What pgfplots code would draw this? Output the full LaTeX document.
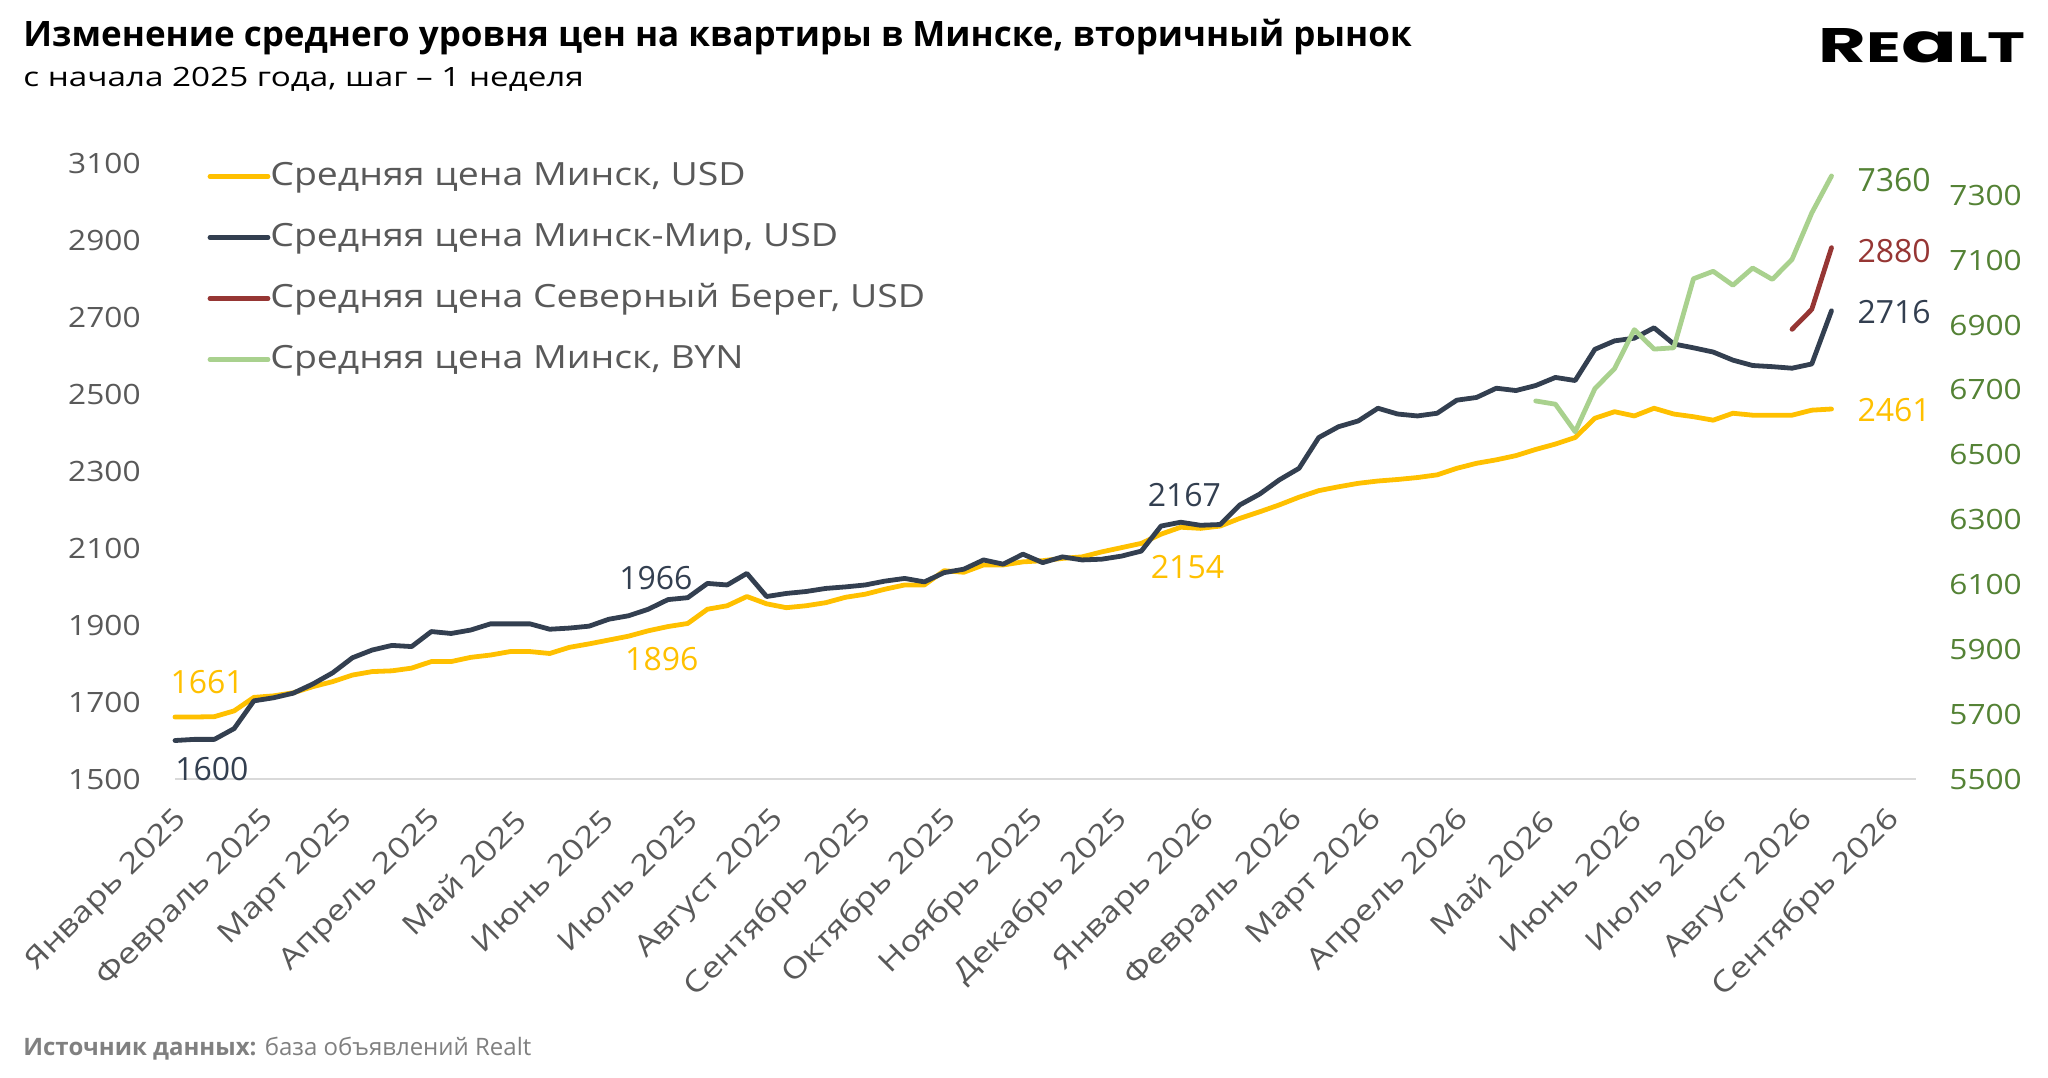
\documentclass[border=0pt]{standalone}
\usepackage{fontspec}
\setmainfont{Open Sans}
\newfontfamily\logofont{Poppins}
\newfontfamily\legfont{Open Sans}[FakeStretch=1.17]
\newfontfamily\subfont{Open Sans}[FakeStretch=1.25]
\newfontfamily\ytfont{Open Sans}[FakeStretch=1.13]
\newfontfamily\xtfont{Open Sans}[FakeStretch=1.2]
\usepackage{pgfplots}
\pgfplotsset{compat=1.18}
\usepackage{pgfplotstable}

\definecolor{cYel}{HTML}{FFC000}
\definecolor{cDark}{HTML}{333F50}
\definecolor{cRed}{HTML}{963634}
\definecolor{cGreen}{HTML}{A9D18E}
\definecolor{cGreenT}{HTML}{548235}
\definecolor{cGray}{HTML}{595959}
\definecolor{cSrc}{HTML}{808080}
\definecolor{cAxis}{HTML}{D9D9D9}

\pgfplotstableread{
x usd mir
0 1661 1600
7 1661 1603
14 1662 1603
21 1677 1631
28 1712 1703
35 1716 1711
42 1724 1723
49 1740 1747
56 1753 1776
63 1770 1815
70 1779 1835
77 1781 1847
84 1788 1844
91 1805 1883
98 1805 1878
105 1816 1887
112 1822 1903
119 1831 1903
126 1831 1903
133 1826 1889
140 1842 1892
147 1851 1897
154 1861 1915
161 1871 1924
168 1885 1941
175 1896 1966
182 1904 1971
189 1941 2008
196 1950 2004
203 1974 2034
210 1955 1974
217 1945 1982
224 1950 1987
231 1958 1995
238 1972 1999
245 1980 2004
252 1993 2014
259 2004 2021
266 2004 2012
273 2041 2036
280 2037 2045
287 2056 2069
294 2056 2058
301 2064 2084
308 2067 2062
315 2073 2077
322 2077 2069
329 2090 2071
336 2101 2079
343 2112 2092
350 2136 2157
357 2154 2167
364 2151 2159
371 2157 2161
378 2177 2212
385 2194 2240
392 2212 2277
399 2232 2307
406 2249 2387
413 2259 2415
420 2268 2430
427 2274 2463
434 2278 2448
441 2283 2443
448 2290 2450
455 2307 2484
462 2320 2491
469 2329 2515
476 2340 2509
483 2356 2522
490 2370 2543
497 2387 2535
504 2437 2616
511 2454 2638
518 2443 2645
525 2463 2672
532 2448 2630
539 2441 2620
546 2432 2609
553 2450 2588
560 2445 2574
567 2445 2571
574 2445 2567
581 2458 2578
588 2461 2716
}\tblMain

\pgfplotstableread{
x sb
574 2668
581 2720
588 2880
}\tblSB

\pgfplotstableread{
x byn
483 6666
490 6656
497 6571
504 6704
511 6766
518 6886
525 6826
532 6830
539 7043
546 7066
553 7023
560 7076
567 7041
574 7103
581 7246
588 7360
}\tblBYN

\newcommand{\dl}{\fontsize{16}{18}\selectfont}

\begin{document}
\begin{tikzpicture}
\useasboundingbox (0,0) rectangle (1024pt,538.5pt);

\node[anchor=base west, inner sep=0pt, font=\fontsize{17.5}{20}\selectfont\bfseries] at (11.5pt,515pt) {Изменение среднего уровня цен на квартиры в Минске, вторичный рынок};
\node[anchor=base west, inner sep=0pt, font=\subfont\fontsize{13.3}{16}\selectfont] at (11.5pt,495pt) {с начала 2025 года, шаг – 1 неделя};
\node[anchor=base west, inner sep=0pt, font=\fontsize{12}{14}\selectfont, text=cSrc] at (11.5pt,11pt) {\textbf{Источник данных:} база объявлений Realt};
\node[anchor=base east, inner sep=0pt] at (1013pt,507pt) {\resizebox{103.5pt}{17pt}{\logofont\bfseries\fontsize{24}{24}\selectfont R\fontsize{21}{21}\selectfont E\fontsize{27}{27}\selectfont a\fontsize{21}{21}\selectfont LT}};

\begin{axis}[
  at={(87.5pt,149pt)}, anchor=south west,
  width=870.5pt, height=308pt, scale only axis,
  xmin=0, xmax=618, ymin=1500, ymax=3100,
  axis x line*=bottom, axis y line*=left,
  x axis line style={draw=cAxis, line width=1pt, -},
  y axis line style={draw=none},
  ytick={1500,1700,...,3100},
  xtick={0,31,59,90,120,151,181,212,243,273,304,334,365,396,424,455,485,516,546,577,608},
  xticklabels={Январь 2025, Февраль 2025, Март 2025, Апрель 2025, Май 2025, Июнь 2025, Июль 2025, Август 2025, Сентябрь 2025, Октябрь 2025, Ноябрь 2025, Декабрь 2025, Январь 2026, Февраль 2026, Март 2026, Апрель 2026, Май 2026, Июнь 2026, Июль 2026, Август 2026, Сентябрь 2026},
  major tick length=0pt, tick style={draw=none},
  scaled y ticks=false,
  /pgf/number format/assume math mode=true,
  /pgf/number format/1000 sep={},
  yticklabel style={font=\ytfont\fontsize{14}{16}\selectfont, text=cGray, anchor=east, inner sep=0pt, xshift=-17pt},
  xticklabel style={font=\xtfont\fontsize{14.5}{16}\selectfont, text=cGray, inner sep=0pt, anchor=east, xshift=4pt, yshift=-18pt, rotate=45},
  clip=false,
  legend cell align=left,
  legend style={at={(axis description cs:0.0185,1.003)}, anchor=north west, draw=none, fill=none,
    font=\legfont\fontsize{16}{19}\selectfont, text=cGray, row sep=15.5pt, inner sep=0pt,
    nodes={inner sep=0pt, text height=12pt, text depth=3pt}},
  legend image code/.code={\draw[#1] (0pt,0pt) -- (29pt,0pt);},
  every axis plot/.append style={line width=2.4pt, line join=round, line cap=round},
]
\addplot[cYel] table[x=x,y=usd]{\tblMain};
\addlegendentry{Средняя цена Минск, USD}
\addplot[cDark] table[x=x,y=mir]{\tblMain};
\addlegendentry{Средняя цена Минск-Мир, USD}
\addplot[cRed] table[x=x,y=sb]{\tblSB};
\addlegendentry{Средняя цена Северный Берег, USD}
\addlegendimage{cGreen, line width=2.4pt}
\addlegendentry{Средняя цена Минск, BYN}

\node[text=cYel, font=\dl, inner sep=0pt] at (axis cs:11.4,1750.6) {1661};
\node[text=cDark, font=\dl, inner sep=0pt] at (axis cs:13.1,1526) {1600};
\node[text=cDark, font=\dl, inner sep=0pt] at (axis cs:170.7,2023) {1966};
\node[text=cYel, font=\dl, inner sep=0pt] at (axis cs:172.8,1811.7) {1896};
\node[text=cDark, font=\dl, inner sep=0pt] at (axis cs:358.3,2237.7) {2167};
\node[text=cYel, font=\dl, inner sep=0pt] at (axis cs:359.4,2050.6) {2154};
\node[text=cGreenT, font=\dl, inner sep=0pt, anchor=west] at (axis cs:597.1,3055) {7360};
\node[text=cRed, font=\dl, inner sep=0pt, anchor=west] at (axis cs:597.1,2872) {2880};
\node[text=cDark, font=\dl, inner sep=0pt, anchor=west] at (axis cs:597.1,2713) {2716};
\node[text=cYel, font=\dl, inner sep=0pt, anchor=west] at (axis cs:597.1,2458) {2461};
\end{axis}

\begin{axis}[
  at={(87.5pt,149pt)}, anchor=south west,
  width=870.5pt, height=308pt, scale only axis,
  xmin=0, xmax=618, ymin=5500, ymax=7400,
  axis x line=none, axis y line*=right,
  y axis line style={draw=none},
  ytick={5500,5700,...,7300},
  major tick length=0pt, tick style={draw=none},
  scaled y ticks=false,
  /pgf/number format/assume math mode=true,
  /pgf/number format/1000 sep={},
  yticklabel style={font=\ytfont\fontsize{14}{16}\selectfont, text=cGreenT, anchor=west, inner sep=0pt, xshift=16.5pt},
  every axis plot/.append style={line width=2.4pt, line join=round, line cap=round},
]
\addplot[cGreen] table[x=x,y=byn]{\tblBYN};
\end{axis}
\end{tikzpicture}
\end{document}
